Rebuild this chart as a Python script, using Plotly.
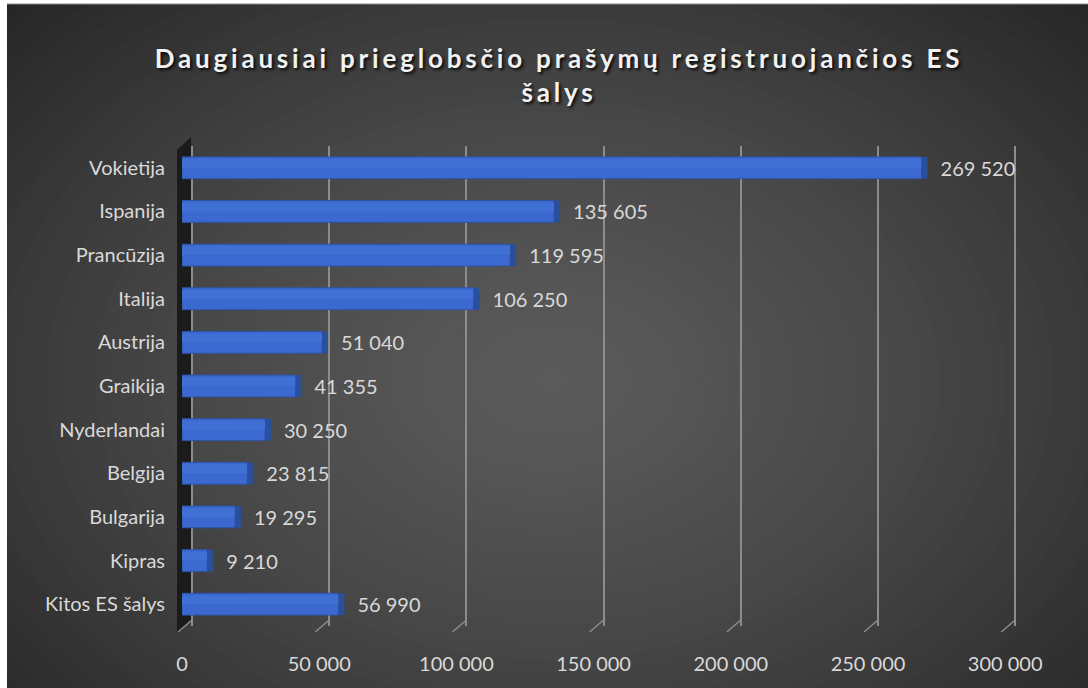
import plotly.graph_objects as go

# ---------------- data ----------------
categories = ["Vokietija", "Ispanija", "Prancūzija", "Italija", "Austrija", "Graikija",
              "Nyderlandai", "Belgija", "Bulgarija", "Kipras", "Kitos ES šalys"]
values = [269520, 135605, 119595, 106250, 51040, 41355, 30250, 23815, 19295, 9210, 56990]
tick_vals = [0, 50000, 100000, 150000, 200000, 250000, 300000]
title_text = "Daugiausiai prieglobsčio prašymų registruojančios ES<br>šalys"

# ---------------- geometry ----------------
FIG_W, FIG_H = 1088, 688
L, R, T, B = 182, 55, 146, 62
PW, PH = FIG_W - L - R, FIG_H - T - B
PX_PER_UNIT = 137.2 / 50000.0
XMAX = PW / PX_PER_UNIT
BACK = 10 / PX_PER_UNIT           # back-plane shift (3D look) in data units
CAP = 6 / PX_PER_UNIT             # bar end-cap depth in data units
FONT = "Lato, Open Sans, sans-serif"


def pxx(px):
    return (px - L) / PW


def pxy(py):
    return 1 - (py - T) / PH


shapes = []
# radial gradient background (concentric ellipses)
cx, cy, ax, ay = 550, 380, 780, 560
N = 60
for k in range(N, 0, -1):
    d = k / N * 1.25
    g = int(round(90 - 54 * min(d, 1.0) ** 1.4))
    g = max(g, 36)
    col = f"rgb({g},{g},{g})"
    shapes.append(dict(type="circle", xref="paper", yref="paper", layer="below",
                       x0=pxx(cx - ax * d), x1=pxx(cx + ax * d),
                       y0=pxy(cy + ay * d), y1=pxy(cy - ay * d),
                       fillcolor=col, line=dict(width=0)))
# white border strips (left and top)
shapes.append(dict(type="rect", xref="paper", yref="paper", layer="below",
                   x0=pxx(-5), x1=pxx(7), y0=pxy(FIG_H + 5), y1=pxy(-5),
                   fillcolor="white", line=dict(width=0)))
shapes.append(dict(type="rect", xref="paper", yref="paper", layer="below",
                   x0=pxx(-5), x1=pxx(FIG_W + 5), y0=pxy(4), y1=pxy(-5),
                   fillcolor="white", line=dict(width=0)))
shapes.append(dict(type="line", xref="paper", yref="paper", layer="below",
                   x0=pxx(7), x1=pxx(FIG_W), y0=pxy(4), y1=pxy(4),
                   line=dict(color="#8a8a8a", width=1)))
# left side wall
shapes.append(dict(type="path", xref="paper", yref="paper", layer="below",
                   path=(f"M {pxx(177)},{pxy(150)} L {pxx(191)},{pxy(137)} "
                         f"L {pxx(191)},{pxy(620)} L {pxx(177)},{pxy(632)} Z"),
                   fillcolor="#1b1b1b", line=dict(width=0)))
# floor diagonals under each gridline
for v in tick_vals:
    xt = L + (v + BACK) * PX_PER_UNIT
    shapes.append(dict(type="line", xref="paper", yref="paper", layer="below",
                       x0=pxx(xt), y0=pxy(620), x1=pxx(xt - 14), y1=pxy(632),
                       line=dict(color="#8c8c8c", width=1.5)))

fig = go.Figure()

# main bar faces
fig.add_trace(go.Bar(
    y=categories, x=values, orientation="h", width=0.5,
    marker=dict(color="#3b69cf", line=dict(color="#2d54a8", width=1)),
    hoverinfo="skip", showlegend=False,
))
# subtle upper highlight band of the bar face
fig.add_trace(go.Bar(
    y=categories, x=values, orientation="h", width=0.2, offset=-0.2,
    marker=dict(color="#4170d4", line=dict(width=0)),
    hoverinfo="skip", showlegend=False,
))
# end caps with data labels
fig.add_trace(go.Bar(
    y=categories, x=[CAP] * len(values), base=values, orientation="h", width=0.5,
    marker=dict(color="#2a4f9c", line=dict(width=0)),
    customdata=values, texttemplate="\u2002%{customdata:,}", textposition="outside",
    textfont=dict(family=FONT, size=20, color="#d9d9d9"),
    cliponaxis=False, constraintext="none",
    hoverinfo="skip", showlegend=False,
))

fig.update_layout(
    width=FIG_W, height=FIG_H,
    margin=dict(l=L, r=R, t=T, b=B, autoexpand=False),
    paper_bgcolor="white", plot_bgcolor="rgba(0,0,0,0)",
    barmode="overlay", separators=". ",
    shapes=shapes,
    title=dict(text=title_text, x=559 / FIG_W, xanchor="center", xref="container",
               y=1 - 68 / FIG_H, yanchor="top", yref="container",
               font=dict(family="Lato, Open Sans, sans-serif", size=26, color="#f2f2f2",
                         weight="bold", shadow="2px 2px 3px rgba(0,0,0,0.85)")),
    xaxis=dict(range=[0, XMAX], tickvals=tick_vals, tickformat=",",
               showgrid=False, zeroline=False, showline=False, ticks="",
               ticklabelstandoff=24,
               tickfont=dict(family=FONT, size=20, color="#d9d9d9")),
    xaxis2=dict(overlaying="x", range=[-BACK, XMAX - BACK], tickvals=tick_vals,
                showgrid=True, gridcolor="#8c8c8c", gridwidth=1.5,
                showticklabels=False, zeroline=False, showline=False, ticks="",
                side="top"),
    yaxis=dict(autorange="reversed", showgrid=False, zeroline=False, showline=False,
               ticks="", ticklabelstandoff=16,
               tickfont=dict(family=FONT, size=20, color="#d9d9d9")),
)
# invisible trace that activates the back-plane grid axis
fig.add_trace(go.Scatter(x=[None], y=[None], xaxis="x2", yaxis="y",
                         showlegend=False, hoverinfo="skip"))

post = ("document.body.style.margin='0px';"
        "document.querySelectorAll('.gtitle').forEach(function(e){"
        "e.style.letterSpacing='3.8px';});")
fig.write_html("out.html", config={"displayModeBar": False}, post_script=post)
